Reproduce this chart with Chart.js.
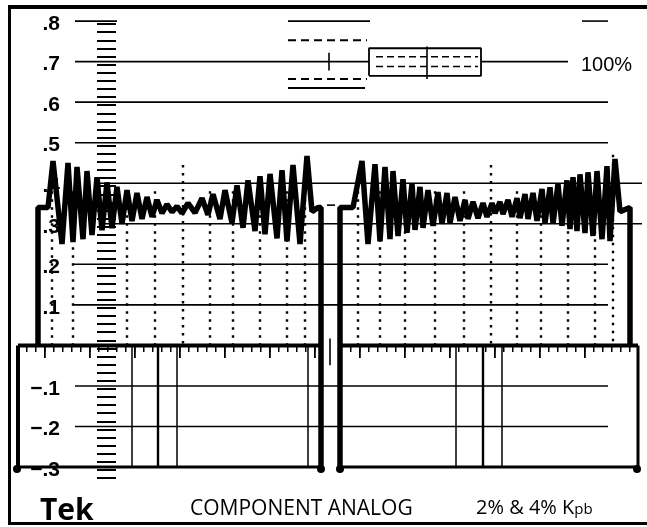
<!DOCTYPE html>
<html>
<head>
<meta charset="utf-8">
<script src="https://cdn.jsdelivr.net/npm/chart.js@4/dist/chart.umd.min.js"></script>
<style>
  html, body { margin: 0; padding: 0; background: #fff; }
  #wrap { position: relative; width: 647px; height: 527px; overflow: hidden; }
  #scope { position: absolute; left: 0; top: 0; }
  .frame { position: absolute; left: 8px; top: 5px; width: 680px; height: 513px;
           border-top: 4px solid #000; border-left: 3px solid #000; border-bottom: 3px solid #000; }
  .txt { position: absolute; color: #000; white-space: nowrap; line-height: 1; }
  #tek { left: 40px; top: 488px; font: bold 30px "Open Sans", sans-serif; }
  #mode { left: 190px; top: 493px; font: 21px "Open Sans", sans-serif; }
  #kpb { left: 476px; top: 493px; font: 20px "Open Sans", sans-serif; }
  #kpb small { font-size: 15px; }
  #pct { left: 581px; top: 53px; font: 20px "Liberation Sans", Arial, sans-serif; }
</style>
</head>
<body>
<div id="wrap">
  <canvas id="scope" width="647" height="527"></canvas>
  <div class="frame"></div>
  <div class="txt" id="pct">100%</div>
  <div class="txt" id="tek">Tek</div>
  <div class="txt" id="mode">COMPONENT ANALOG</div>
  <div class="txt" id="kpb">2% &amp; 4% K<small>pb</small></div>
</div>
<script>
// volts scale labels
const tickValues = [0.8, 0.7, 0.6, 0.5, 0.4, 0.3, 0.2, 0.1, -0.1, -0.2, -0.3];
const tickLabels = ['.8', '.7', '.6', '.5', '.4', '.3', '.2', '.1', '\u2212.1', '\u2212.2', '\u2212.3'];

// horizontal graticule runs: level and start / end along the line
const gratLevels = [0.8, 0.8, 0.8, 0.7, 0.7, 0.6, 0.5, 0.4, 0.3, 0.2, 0.1, -0.1, -0.2];
const gratFrom = [7.5, 28.8, 58.2, 7.5, 48.1, 7.5, 7.5, 10.0, 10.0, 7.3, 7.3, 7.5, 7.5];
const gratTo = [11.7, 37.0, 60.8, 36.9, 56.8, 60.8, 60.8, 64.2, 64.2, 60.8, 60.8, 60.8, 60.8];

// dotted time lines in the upper half
const dotX = [5.2, 7.3, 12.7, 15.5, 18.3, 21.0, 23.3, 26.0, 28.7, 30.5,
              35.8, 38.0, 40.5, 43.5, 46.4, 49.1, 51.7, 54.1, 56.8, 59.5, 61.3];
const dotTop = [0.38, 0.38, 0.38, 0.38, 0.445, 0.38, 0.38, 0.38, 0.38, 0.38,
                0.38, 0.38, 0.38, 0.38, 0.38, 0.445, 0.38, 0.38, 0.38, 0.38, 0.47];

// solid time lines in the lower box
const boxLineX = [13.2, 15.8, 17.7, 30.8, 45.6, 48.3, 50.2];

// 100% target marks
const refDash = [0.753, 0.657];
const refLow = 0.635;
const targetBox = { x: [36.9, 48.1], y: [0.665, 0.733], split: 42.7, inner: [0.688, 0.712] };

// the two traced lines
const lineRuns = [[1.8, 32.2], [34.0, 63.8]];
const endDotsX = [1.7, 32.1, 34.0, 63.7];

const leftX = [3.8, 3.8, 4.8, 5.3, 6.2, 6.8, 7.3, 7.7, 8.3, 8.7, 9.2, 9.7, 10.2, 10.7, 11.2, 11.7,
  12.2, 12.7, 13.2, 13.7, 14.2, 14.7, 15.2, 15.7, 16.2, 16.7, 17.2, 17.7, 18.2, 18.8, 19.5, 20.2,
  20.8, 21.3, 22.0, 22.5, 23.2, 23.7, 24.3, 24.8, 25.5, 26.0, 26.5, 27.0, 27.7, 28.2, 28.7, 29.3,
  30.0, 30.7, 31.2, 31.8, 32.1, 32.1];
const leftY = [0, 0.34, 0.34, 0.455, 0.25, 0.45, 0.255, 0.44, 0.262, 0.43, 0.272, 0.415, 0.284,
  0.402, 0.289, 0.391, 0.3, 0.383, 0.307, 0.376, 0.312, 0.366, 0.317, 0.359, 0.326, 0.348, 0.329,
  0.343, 0.326, 0.351, 0.327, 0.363, 0.322, 0.373, 0.312, 0.383, 0.302, 0.395, 0.29, 0.407, 0.282,
  0.417, 0.274, 0.423, 0.264, 0.432, 0.257, 0.445, 0.25, 0.467, 0.33, 0.34, 0.34, -0.3];

const rightX = [34.0, 34.0, 35.3, 36.2, 36.8, 37.5, 38.0, 38.5, 39.0, 39.3, 39.8, 40.3, 40.7, 41.2,
  41.5, 42.0, 42.3, 42.8, 43.3, 43.8, 44.2, 44.7, 45.0, 45.5, 46.0, 46.5, 46.8, 47.3, 47.8, 48.3,
  48.7, 49.2, 49.5, 50.0, 50.3, 50.8, 51.2, 51.7, 52.0, 52.5, 52.8, 53.3, 53.7, 54.2, 54.5, 55.0,
  55.3, 55.8, 56.2, 56.7, 57.0, 57.3, 57.7, 58.0, 58.5, 58.8, 59.3, 59.7, 60.2, 60.7, 61.0, 61.5,
  62.0, 63.0, 63.0];
const rightY = [-0.3, 0.34, 0.34, 0.455, 0.25, 0.447, 0.257, 0.44, 0.262, 0.43, 0.27, 0.41, 0.278,
  0.398, 0.285, 0.391, 0.29, 0.383, 0.295, 0.378, 0.3, 0.376, 0.302, 0.366, 0.307, 0.359, 0.312,
  0.354, 0.314, 0.351, 0.317, 0.351, 0.326, 0.354, 0.324, 0.359, 0.317, 0.363, 0.314, 0.373, 0.312,
  0.376, 0.307, 0.386, 0.302, 0.39, 0.3, 0.398, 0.295, 0.407, 0.287, 0.415, 0.282, 0.422, 0.277,
  0.427, 0.27, 0.43, 0.262, 0.442, 0.257, 0.46, 0.33, 0.34, 0];

const yMin = -0.448, yMax = 0.852;

function seg(pts, width, order, dash) {
  return {
    data: pts, borderColor: '#000', backgroundColor: '#000', borderWidth: width,
    borderDash: dash || [], showLine: true, pointRadius: 0, order: order,
    borderJoinStyle: 'bevel', borderCapStyle: 'butt'
  };
}

const datasets = [];

// traces on top
datasets.push(seg(leftX.map((x, i) => ({ x, y: leftY[i] })), 5.5, 0));
datasets.push(seg(rightX.map((x, i) => ({ x, y: rightY[i] })), 5.5, 0));
lineRuns.forEach(r => {
  datasets.push(seg([{ x: r[0], y: 0 }, { x: r[1], y: 0 }], 4, 0));
  datasets.push(seg([{ x: r[0], y: -0.3 }, { x: r[1], y: -0.3 }], 3, 0));
});
datasets.push(seg([{ x: lineRuns[0][0], y: 0 }, { x: lineRuns[0][0], y: -0.3 }], 4, 0));
datasets.push(seg([{ x: lineRuns[1][1], y: 0 }, { x: lineRuns[1][1], y: -0.3 }], 3, 0));
datasets.push({
  data: endDotsX.map(x => ({ x, y: -0.305 })), showLine: false, pointRadius: 4,
  pointBackgroundColor: '#000', pointBorderWidth: 0, order: 0
});

// graticule
gratLevels.forEach((v, i) => {
  datasets.push(seg([{ x: gratFrom[i], y: v }, { x: gratTo[i], y: v }], 1.6, 2));
});
dotX.forEach((x, i) => {
  datasets.push(seg([{ x, y: dotTop[i] }, { x, y: 0 }], 2.4, 2, [2.4, 5.6]));
});
boxLineX.forEach((x, i) => {
  datasets.push(seg([{ x, y: 0 }, { x, y: -0.3 }], i === 1 || i === 5 ? 2.4 : 1.5, 2));
});
refDash.forEach(v => {
  datasets.push(seg([{ x: 28.8, y: v }, { x: 36.7, y: v }], 2, 2, [8, 5]));
});
datasets.push(seg([{ x: 28.8, y: refLow }, { x: 36.5, y: refLow }], 2, 2));
datasets.push(seg([{ x: 32.9, y: 0.678 }, { x: 32.9, y: 0.722 }], 1.6, 2));
datasets.push(seg([
  { x: targetBox.x[0], y: targetBox.y[0] }, { x: targetBox.x[1], y: targetBox.y[0] },
  { x: targetBox.x[1], y: targetBox.y[1] }, { x: targetBox.x[0], y: targetBox.y[1] },
  { x: targetBox.x[0], y: targetBox.y[0] }], 1.8, 2));
datasets.push(seg([{ x: targetBox.split, y: 0.657 }, { x: targetBox.split, y: 0.737 }], 1.6, 2));
targetBox.inner.forEach(v => {
  datasets.push(seg([{ x: 37.6, y: v }, { x: 47.8, y: v }], 1.6, 2, [7, 4]));
});
datasets.push(seg([{ x: 33.0, y: 0.017 }, { x: 33.0, y: -0.049 }], 1.6, 2));
datasets.push(seg([{ x: 32.7, y: 0.346 }, { x: 33.5, y: 0.346 }], 1.6, 2));

const inRun = v => lineRuns.some(r => v > r[0] + 0.3 && v < r[1] - 0.3);

// volt labels, drawn under the traces at the y scale's own pixels
const voltLabels = {
  id: 'voltLabels',
  beforeDatasetsDraw(chart) {
    const { ctx, scales } = chart;
    const right = scales.x.getPixelForValue(6.0);
    ctx.save();
    ctx.fillStyle = '#000';
    ctx.font = 'bold 21px "Liberation Sans", Arial, sans-serif';
    ctx.textAlign = 'right';
    ctx.textBaseline = 'middle';
    tickValues.forEach((v, i) => {
      ctx.fillText(tickLabels[i], right, scales.y.getPixelForValue(v) + 3);
    });
    ctx.restore();
  }
};

new Chart(document.getElementById('scope'), {
  type: 'scatter',
  data: { datasets },
  plugins: [voltLabels],
  options: {
    responsive: false,
    animation: false,
    events: [],
    layout: { padding: 0, autoPadding: false },
    plugins: { legend: { display: false }, tooltip: { enabled: false } },
    scales: {
      x: { type: 'linear', min: 0, max: 64.7, display: false },
      y: { type: 'linear', min: yMin, max: yMax, display: false },
      yLadder: {
        type: 'linear', min: yMin, max: yMax, position: { x: 11.6 },
        border: { display: false },
        grid: {
          drawOnChartArea: false, tickLength: 19, lineWidth: 2,
          color: c => (c.tick && c.tick.value > -0.335 && c.tick.value < 0.81 ? '#000' : 'rgba(0,0,0,0)')
        },
        ticks: { display: false, stepSize: 0.02, maxTicksLimit: 1000 }
      },
      xMinor: {
        type: 'linear', min: 0, max: 64.7, position: { y: 0 },
        border: { display: false },
        grid: {
          drawOnChartArea: false, tickLength: 7, lineWidth: 1.5,
          color: c => (c.tick && inRun(c.tick.value) ? '#000' : 'rgba(0,0,0,0)')
        },
        ticks: { display: false, stepSize: 0.9, maxTicksLimit: 1000 }
      },
      xMajor: {
        type: 'linear', min: 0, max: 64.7, position: { y: 0 },
        border: { display: false },
        grid: {
          drawOnChartArea: false, tickLength: 13, lineWidth: 1.8,
          color: c => (c.tick && inRun(c.tick.value) ? '#000' : 'rgba(0,0,0,0)')
        },
        ticks: { display: false, stepSize: 4.5, maxTicksLimit: 1000 }
      }
    }
  }
});
</script>
</body>
</html>
